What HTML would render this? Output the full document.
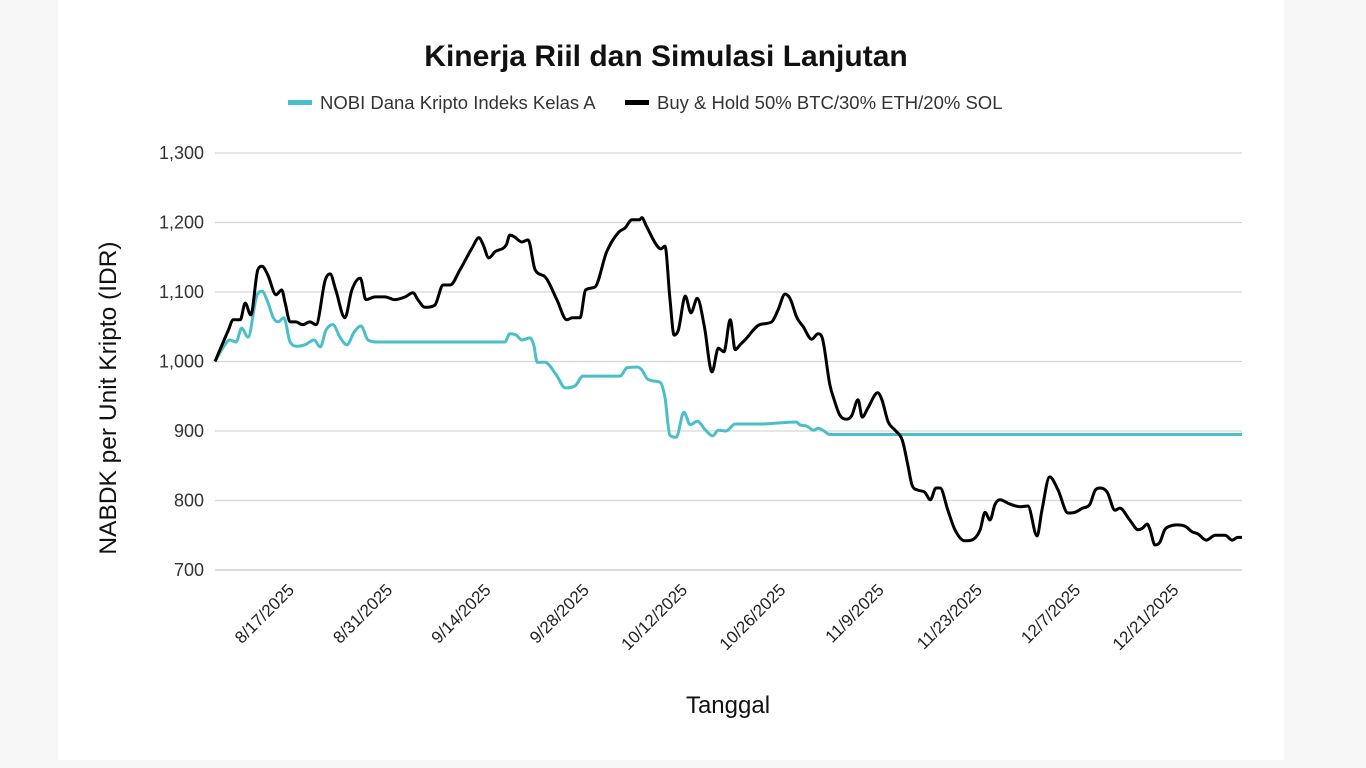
<!DOCTYPE html>
<html><head><meta charset="utf-8"><style>
body{margin:0;background:#f7f7f7;font-family:"Liberation Sans",sans-serif;}
#card{position:absolute;left:58px;top:0;width:1226px;height:760px;background:#fff;}
svg{position:absolute;left:0;top:0;}
</style></head><body>
<div id="card"></div>
<svg id="chart" width="1366" height="768">
<text x="666" y="66" text-anchor="middle" font-size="30" font-weight="bold" fill="#111">Kinerja Riil dan Simulasi Lanjutan</text>
<g>
<rect x="288" y="100" width="24" height="5" fill="#4bbfc9"/>
<text x="320" y="109" font-size="18.5" fill="#333">NOBI Dana Kripto Indeks Kelas A</text>
<rect x="625" y="100" width="24" height="5" fill="#000"/>
<text x="657" y="109" font-size="18.5" fill="#333">Buy &amp; Hold 50% BTC/30% ETH/20% SOL</text>
</g>
<text transform="translate(116,398) rotate(-90)" text-anchor="middle" font-size="24.5" fill="#111">NABDK per Unit Kripto (IDR)</text>
<text x="728" y="713" text-anchor="middle" font-size="24" fill="#111">Tanggal</text>
<g id="grid"></g><g id="xt"></g><g id="lines"></g>
</svg>
<script>
const yTicks=[700,800,900,1000,1100,1200,1300];
const xTickDays=[11,25,39,53,67,81,95,109,123,137];
const xTickLabels=["8/17/2025","8/31/2025","9/14/2025","9/28/2025","10/12/2025","10/26/2025","11/9/2025","11/23/2025","12/7/2025","12/21/2025"];
const blackDays=[0,1.9,2.6,3.6,4.3,5.1,6.1,6.7,7.5,8.7,9.5,10,10.7,11.5,12.5,13.5,14.4,15.7,16.4,17.2,18.5,19.5,20.7,21.5,22.8,24.2,25.6,27.1,28.2,28.9,29.9,31.3,32.5,33.5,34.9,36.6,37.6,38.2,39,39.9,41.5,42,42.7,43.7,44.6,45.6,47,48.7,50.1,50.9,52,52.8,54.1,55.8,57.5,58.4,59.4,60.5,60.8,61.4,62.8,63.5,64.1,64.8,65.4,66,67,67.8,68.7,69.7,70.8,71.7,72.5,73.4,74.1,74.8,75.5,77.6,79.3,80.2,81.2,81.9,82.9,83.8,85,85.9,86.5,87.6,88.2,89,90,90.7,91.6,92.2,93,94.4,95,95.9,96.9,97.9,98.7,99.3,100.1,101.1,101.9,102.7,103.3,104.4,105.4,106.8,107.8,109,109.7,110.4,111.1,111.8,113.2,114.7,115.8,117.1,117.8,118.9,120.1,121.5,122.5,123.6,124.6,125.4,126.1,127.1,128.2,128.9,130.3,131.5,132.1,132.8,133.2,133.9,134.6,135.3,136,137,138.2,139.2,140,141.2,142.5,143.9,144.9,145.7,146.3];
const blackValues=[1000,1045,1060,1060,1084,1067,1132,1137,1125,1096,1103,1084,1057,1057,1053,1057,1053,1117,1126,1103,1063,1103,1120,1089,1093,1093,1089,1093,1099,1089,1078,1081,1110,1110,1132,1163,1178,1168,1149,1158,1168,1182,1179,1172,1175,1132,1122,1089,1060,1063,1063,1103,1107,1158,1186,1192,1204,1204,1207,1196,1169,1162,1166,1091,1038,1045,1094,1070,1091,1051,985,1019,1014,1060,1017,1024,1031,1053,1057,1074,1097,1091,1063,1050,1032,1040,1034,966,945,923,917,922,945,920,933,955,945,913,901,887,851,822,815,812,801,818,818,786,758,742,743,758,783,772,794,801,795,791,792,749,786,834,815,782,783,789,794,815,818,812,786,789,772,758,760,766,758,736,740,758,763,765,763,755,752,743,750,750,743,747,747];
const tealDays=[0,1.4,2.1,3,3.8,4.7,6,6.7,7.5,8.3,9,9.8,10.7,11.7,12.8,14.1,15,15.8,16.8,17.8,18.8,19.8,20.8,21.8,23.2,41.3,42,42.9,43.7,44.9,45.4,45.9,47,48.6,49.9,51.3,52.4,54.3,57.7,58.7,60.1,60.8,61.5,62.4,63.4,64.1,64.8,65.7,66.8,67.7,68.7,69.9,70.9,71.7,72.8,74.1,77.6,82.8,83.3,84.3,85.3,85.9,86.6,87.6,146.3];
const tealValues=[1000,1024,1031,1028,1048,1035,1096,1101,1086,1063,1057,1063,1028,1022,1024,1031,1021,1045,1053,1035,1024,1042,1051,1031,1028,1028,1040,1038,1031,1034,1024,999,999,981,962,965,979,979,979,991,992,988,976,972,970,948,894,891,927,909,914,901,893,901,900,910,910,913,909,907,901,904,901,895,895];

const NS="http://www.w3.org/2000/svg";
const X0=215,X1=1242,D1=146.3,Y0=570,Y1=153;
const xs=d=>X0+d*(X1-X0)/D1;
const ys=v=>Y0-(v-700)*(Y0-Y1)/600;
const grid=document.getElementById('grid');
yTicks.forEach(t=>{
  const l=document.createElementNS(NS,'line');
  l.setAttribute('x1',X0);l.setAttribute('x2',X1);l.setAttribute('y1',ys(t));l.setAttribute('y2',ys(t));
  l.setAttribute('stroke',t===700?'#c8c8c8':'#d6d6d6');l.setAttribute('stroke-width','1.3');
  
  
  grid.appendChild(l);
  const tx=document.createElementNS(NS,'text');
  tx.setAttribute('x',204);tx.setAttribute('y',ys(t)+6);tx.setAttribute('text-anchor','end');
  tx.setAttribute('font-size','18');tx.setAttribute('fill','#333');
  tx.textContent=t.toLocaleString('en-US');
  
  
  grid.appendChild(tx);
});
const xt=document.getElementById('xt');
xTickDays.forEach((d,i)=>{
  const tx=document.createElementNS(NS,'text');
  const x=xs(d)+3,y=591;
  tx.setAttribute('transform','translate('+x+','+y+') rotate(-45)');
  tx.setAttribute('text-anchor','end');tx.setAttribute('font-size','17');tx.setAttribute('fill','#222');
  tx.textContent=xTickLabels[i];
  
  
  xt.appendChild(tx);
});
function path(days,vals){
  const p=days.map((d,i)=>[xs(d),ys(vals[i])]);
  const n=p.length,dl=[],m=[];
  for(let i=0;i<n-1;i++)dl.push((p[i+1][1]-p[i][1])/(p[i+1][0]-p[i][0]));
  for(let i=0;i<n;i++){
    if(i===0)m.push(dl[0]);else if(i===n-1)m.push(dl[n-2]);
    else m.push(dl[i-1]*dl[i]<=0?0:(dl[i-1]+dl[i])/2);
  }
  for(let i=0;i<n-1;i++){
    if(dl[i]===0){m[i]=0;m[i+1]=0;continue;}
    const a=m[i]/dl[i],b=m[i+1]/dl[i],s=a*a+b*b;
    if(s>9){const t=3/Math.sqrt(s);m[i]=t*a*dl[i];m[i+1]=t*b*dl[i];}
  }
  let s='M'+p[0][0]+','+p[0][1];
  for(let i=0;i<n-1;i++){
    const h=(p[i+1][0]-p[i][0])/3;
    s+=' C'+(p[i][0]+h)+','+(p[i][1]+m[i]*h)+' '+(p[i+1][0]-h)+','+(p[i+1][1]-m[i+1]*h)+' '+p[i+1][0]+','+p[i+1][1];
  }
  return s;
}
const lines=document.getElementById('lines');
[[tealDays,tealValues,'#4bbfc9','nobi-line'],[blackDays,blackValues,'#000','buyhold-line']].forEach(s=>{
  const pa=document.createElementNS(NS,'path');
  pa.setAttribute('d',path(s[0],s[1]));pa.setAttribute('fill','none');
  pa.setAttribute('stroke',s[2]);pa.setAttribute('stroke-width','3');pa.setAttribute('stroke-linejoin','round');
  
  
  lines.appendChild(pa);
});
</script>
</body></html>
